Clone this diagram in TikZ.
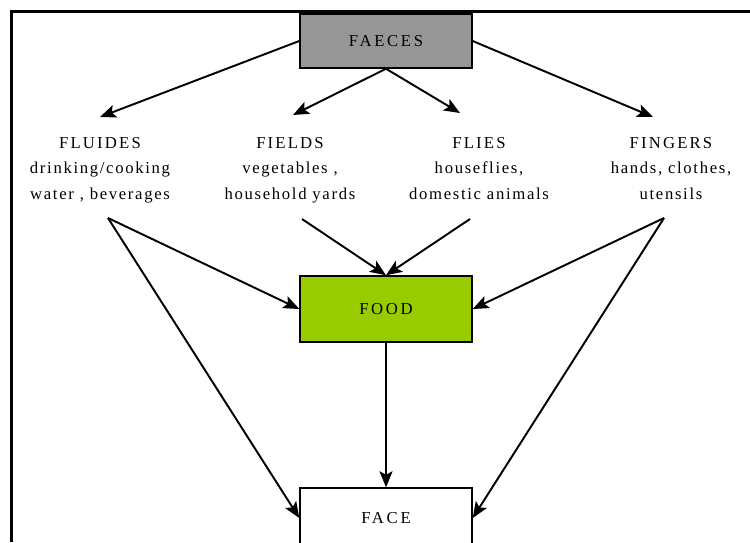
\documentclass[tikz,border=0pt]{standalone}
\usepackage{fontspec}
\setmainfont{Liberation Serif}
\newfontfamily\capsfont[LetterSpace=13]{Liberation Serif}
\newfontfamily\boxfont[LetterSpace=16]{Liberation Serif}
\newfontfamily\wordsfont[LetterSpace=10]{Liberation Serif}
\usetikzlibrary{arrows.meta}
\definecolor{faecesgray}{RGB}{150,150,150}
\definecolor{foodgreen}{RGB}{153,204,0}
\tikzset{
    box/.style={draw, line width=0.85pt, minimum width=3.44cm, inner sep=0pt, font=\boxfont\fontsize{9.5}{11}\selectfont},
    source/.style={align=center, anchor=north, inner sep=0pt, font=\wordsfont\fontsize{9.5}{14.5}\selectfont},
    route/.style={line width=1.1pt, -{Stealth[length=3.2mm,width=2.6mm,inset=0.7mm]}}
}

\begin{document}
\begin{tikzpicture}[x=0.02cm, y=-0.02cm]
    \useasboundingbox (0,0) rectangle (750,542);
    \clip (0,0) rectangle (750,542);
    \draw[line width=1.7pt] (11.5,542) -- (11.5,11.5) -- (750,11.5);
    \node[box, fill=faecesgray, minimum height=1.08cm] (faeces) at (386,41) {FAECES};
    \node[box, fill=foodgreen, minimum height=1.32cm] (food) at (386,309) {FOOD};
    \node[box, fill=white, minimum height=1.2cm] (face) at (386,518) {FACE};
    \node[source] (fluides) at (100,137) {{\capsfont FLUIDES}\\drinking/cooking\\water , beverages};
    \node[source] (fields) at (290,137) {{\capsfont FIELDS}\\vegetables ,\\household yards};
    \node[source] (flies) at (479,137) {{\capsfont FLIES}\\houseflies,\\domestic animals};
    \node[source] (fingers) at (671,137) {{\capsfont FINGERS}\\hands, clothes,\\utensils};
    \coordinate (fluidesin) at (100,117);
    \coordinate (fieldsin) at (293,115);
    \coordinate (fliesin) at (460,113);
    \coordinate (fingersin) at (653,117);
    \coordinate (fluidesout) at (108,218);
    \coordinate (fieldsout) at (302,219);
    \coordinate (fliesout) at (470,219);
    \coordinate (fingersout) at (664,218);
    \draw[route] (faeces.west) -- (fluidesin);
    \draw[route] (faeces.south) -- (fieldsin);
    \draw[route] (faeces.south) -- (fliesin);
    \draw[route] (faeces.east) -- (fingersin);
    \draw[route] (fluidesout) -- (food.west);
    \draw[route] (fluidesout) -- (face.west);
    \draw[route] (fieldsout) -- (food.north);
    \draw[route] (fliesout) -- (food.north);
    \draw[route] (fingersout) -- (food.east);
    \draw[route] (fingersout) -- (face.east);
    \draw[route] (food.south) -- (face.north);
\end{tikzpicture}
\end{document}
